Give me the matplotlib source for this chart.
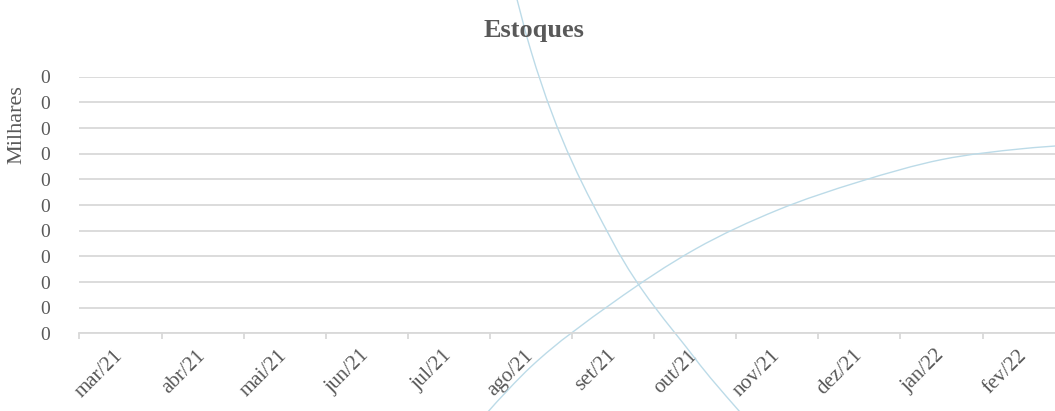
import matplotlib
matplotlib.use("Agg")
import matplotlib.pyplot as plt
from matplotlib.path import Path
from matplotlib.patches import PathPatch
from matplotlib.ticker import FuncFormatter, FixedLocator

# dados (unidades da escala vertical, em milhares)
meses = ["mar/21", "abr/21", "mai/21", "jun/21", "jul/21", "ago/21", "set/21",
         "out/21", "nov/21", "dez/21", "jan/22", "fev/22", "mar/22"]
estoque_queda = [None, None, None, None, 24.9, 11.0, 3.54, -0.99, -4.86, -9.79, None, None, None]
estoque_alta = [None, None, None, None, -4.77, -1.30, 1.20, 3.28, 4.80, 5.91, 6.77, 7.20, 7.42]

cinza_txt = "#595959"
cinza_grade = "#d9d9d9"
azul = "#bcdbe8"

plt.rcParams["font.family"] = ["Liberation Serif", "DejaVu Serif"]


def curva_suave(valores):
    # linha suavizada tipo Excel (Catmull-Rom em Bezier)
    pts = [(i, v) for i, v in enumerate(valores) if v is not None]
    verts = [pts[0]]
    codes = [Path.MOVETO]
    for k in range(len(pts) - 1):
        p0 = pts[k - 1] if k > 0 else pts[k]
        p1 = pts[k]
        p2 = pts[k + 1]
        p3 = pts[k + 2] if k + 2 < len(pts) else pts[k + 1]
        c1 = (p1[0] + (p2[0] - p0[0]) / 6, p1[1] + (p2[1] - p0[1]) / 6)
        c2 = (p2[0] - (p3[0] - p1[0]) / 6, p2[1] - (p3[1] - p1[1]) / 6)
        verts += [c1, c2, p2]
        codes += [Path.CURVE4] * 3
    return Path(verts, codes)


fig = plt.figure(figsize=(10.55, 4.11), dpi=100)
ax = fig.add_axes([0.0753, 0.189, 1.0117, 0.6243])

ax.set_xlim(-0.5, len(meses) - 0.5)
ax.set_ylim(0, 10)

for serie in (estoque_queda, estoque_alta):
    ax.add_patch(PathPatch(curva_suave(serie), facecolor="none", edgecolor=azul,
                           lw=1.0, transform=ax.transData, clip_on=False))

ax.set_yticks(range(0, 11))
ax.yaxis.set_major_formatter(FuncFormatter(lambda v, p: "0"))
ax.yaxis.grid(True, color=cinza_grade, lw=1.3)
ax.set_axisbelow(True)

# o ultimo mes fica fora do recorte da imagem original
rotulos = meses[:-1] + [""]
ax.set_xticks(range(len(meses)))
ax.set_xticklabels(rotulos, rotation=45, ha="right", va="center", rotation_mode="anchor")
ax.xaxis.set_minor_locator(FixedLocator([i - 0.5 for i in range(len(meses) + 1)]))
ax.tick_params(axis="x", which="major", length=0, pad=14, labelsize=15, labelcolor=cinza_txt)
ax.tick_params(axis="x", which="minor", length=4, width=1.3, color=cinza_grade)
ax.tick_params(axis="y", length=0, pad=21, labelsize=14, labelcolor=cinza_txt)

for lado in ("top", "right", "left"):
    ax.spines[lado].set_visible(False)
ax.spines["bottom"].set_color(cinza_grade)
ax.spines["bottom"].set_linewidth(1.3)

fig.text(534 / 1055, 1 - 30 / 411, "Estoques", ha="center", va="center",
         fontsize=19, fontweight="bold", color=cinza_txt)
fig.text(17 / 1055, 1 - 125 / 411, "Milhares", rotation=90, ha="center", va="center",
         fontsize=16, color=cinza_txt)

fig.savefig("out.png", dpi=100)
